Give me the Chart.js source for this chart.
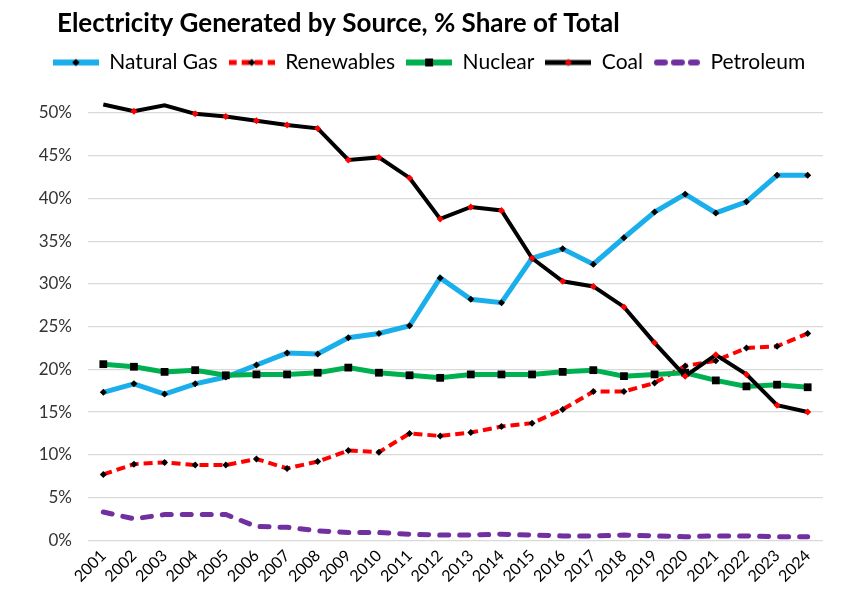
<!DOCTYPE html>
<html>
<head>
<meta charset="utf-8">
<script src="https://cdn.jsdelivr.net/npm/chart.js@4.4.1/dist/chart.umd.min.js"></script>
<style>
html,body{margin:0;padding:0;background:#fff;}
#wrap{width:842px;height:594px;position:relative;}
</style>
</head>
<body>
<div id="wrap"><canvas id="c" width="842" height="594"></canvas></div>
<script>
const years = ['2001','2002','2003','2004','2005','2006','2007','2008','2009','2010','2011','2012','2013','2014','2015','2016','2017','2018','2019','2020','2021','2022','2023','2024'];
const naturalGas = [17.3,18.3,17.1,18.3,19.1,20.5,21.9,21.8,23.7,24.2,25.1,30.7,28.2,27.8,33.0,34.1,32.3,35.4,38.4,40.5,38.3,39.6,42.7,42.7];
const renewables = [7.7,8.9,9.1,8.8,8.8,9.5,8.4,9.2,10.5,10.3,12.5,12.2,12.6,13.3,13.7,15.3,17.4,17.4,18.4,20.4,21.0,22.5,22.7,24.2];
const nuclear = [20.6,20.3,19.7,19.9,19.3,19.4,19.4,19.6,20.2,19.6,19.3,19.0,19.4,19.4,19.4,19.7,19.9,19.2,19.4,19.6,18.7,18.0,18.2,17.9];
const coal = [51.0,50.2,50.9,49.9,49.6,49.1,48.6,48.2,44.5,44.8,42.4,37.6,39.0,38.6,33.0,30.3,29.7,27.3,23.1,19.2,21.7,19.4,15.8,15.0];
const petroleum = [3.3,2.5,3.0,3.0,3.0,1.6,1.5,1.1,0.9,0.9,0.7,0.6,0.6,0.7,0.6,0.5,0.5,0.6,0.5,0.4,0.5,0.5,0.4,0.4];
const yTickValues = [0,5,10,15,20,25,30,35,40,45,50];
const chartTitle = 'Electricity Generated by Source, % Share of Total';

const FONT = 'Lato, "Open Sans", sans-serif';

const datasets = [
  {label:'Natural Gas', data:naturalGas, borderColor:'#1AAFEB', backgroundColor:'#000', borderWidth:5,
   pointStyle:'rectRot', pointRadius:3.5, pointBorderColor:'#000', pointBackgroundColor:'#000', pointBorderWidth:0, order:5},
  {label:'Renewables', data:renewables, borderColor:'#FF0000', backgroundColor:'#000', borderWidth:4, borderDash:[9,5],
   pointStyle:'rectRot', pointRadius:3.5, pointBorderColor:'#000', pointBackgroundColor:'#000', pointBorderWidth:0, order:4},
  {label:'Nuclear', data:nuclear, borderColor:'#00B050', backgroundColor:'#000', borderWidth:5,
   pointStyle:'rect', pointRadius:5.5, pointBorderColor:'#000', pointBackgroundColor:'#000', pointBorderWidth:0, order:3},
  {label:'Coal', data:coal, borderColor:'#000000', backgroundColor:'#FF0000', borderWidth:4,
   pointStyle:'rectRot', pointRadius:3.5, pointBorderColor:'#FF0000', pointBackgroundColor:'#FF0000', pointBorderWidth:0, order:2},
  {label:'Petroleum', data:petroleum, borderColor:'#7030A0', backgroundColor:'#7030A0', borderWidth:5, borderDash:[9,11], borderCapStyle:'round',
   pointRadius:0, order:1}
];
datasets.forEach(d => { d.tension = 0; d.fill = false; d.pointHoverRadius = d.pointRadius; d.clip = false; });

function legendImage(ds){
  const w = 46, h = 16;
  const cv = document.createElement('canvas');
  cv.width = w; cv.height = h;
  const ctx = cv.getContext('2d');
  ctx.strokeStyle = ds.borderColor;
  ctx.lineWidth = ds.borderWidth + 1;
  ctx.lineCap = ds.borderCapStyle || 'butt';
  if (ds.borderDash) ctx.setLineDash(ds.label==='Petroleum' ? [8,9] : [8,5]);
  ctx.beginPath();
  const pad = ctx.lineCap === 'round' ? 3 : 0;
  ctx.moveTo(pad, h/2); ctx.lineTo(w - pad, h/2); ctx.stroke();
  ctx.setLineDash([]);
  if (ds.pointRadius > 0) {
    Chart.helpers.drawPoint(ctx, {pointStyle: ds.pointStyle, radius: ds.pointRadius, borderWidth: 0, rotation: 0}, w/2, h/2);
    ctx.fillStyle = ds.pointBackgroundColor;
    ctx.fill();
  }
  return cv;
}

const titlePlugin = {
  id: 'leftTitle',
  beforeInit(chart) {
    const lg = chart.legend;
    if (lg) {
      const origFit = lg.fit;
      lg.fit = function () { origFit.call(this); this.height += 30; };
    }
  },
  afterDraw(chart) {
    const ctx = chart.ctx;
    ctx.save();
    ctx.font = 'bold 26px ' + FONT;
    ctx.fillStyle = '#000';
    ctx.textAlign = 'left';
    ctx.textBaseline = 'alphabetic';
    ctx.fillText(chartTitle, 57, 32);
    ctx.restore();
  }
};

new Chart(document.getElementById('c'), {
  type: 'line',
  data: { labels: years, datasets: datasets },
  plugins: [titlePlugin],
  options: {
    responsive: false,
    animation: false,
    devicePixelRatio: 1,
    layout: { padding: { left: 35, right: 19, top: 41, bottom: 2 } },
    plugins: {
      title: { display: false },
      legend: {
        display: true, position: 'top', align: 'center',
        labels: {
          usePointStyle: true, pointStyleWidth: 46,
          color: '#000', font: { family: FONT, size: 21 }, padding: 11,
          generateLabels: (chart) => chart.data.datasets.map((ds, i) => ({
            text: ds.label, pointStyle: legendImage(ds), datasetIndex: i,
            fillStyle: ds.borderColor, strokeStyle: ds.borderColor, lineWidth: 0, hidden: false
          }))
        }
      },
      tooltip: { enabled: false }
    },
    scales: {
      x: {
        offset: true,
        grid: { display: false, drawTicks: false },
        border: { display: false },
        ticks: { color: '#000', font: { family: FONT, size: 16 }, minRotation: 45, maxRotation: 45, padding: 6, autoSkip: false }
      },
      y: {
        min: 0, max: 50,
        afterFit: (s) => { s.width = 53; },
        afterBuildTicks: (s) => { s.ticks = yTickValues.map(v => ({ value: v })); },
        grid: { color: '#D9D9D9', lineWidth: 1.3, drawTicks: false },
        border: { display: false },
        ticks: { color: '#333333', font: { family: FONT, size: 17 }, padding: 16, callback: (v) => v + '%' }
      }
    }
  }
});
</script>
</body>
</html>
